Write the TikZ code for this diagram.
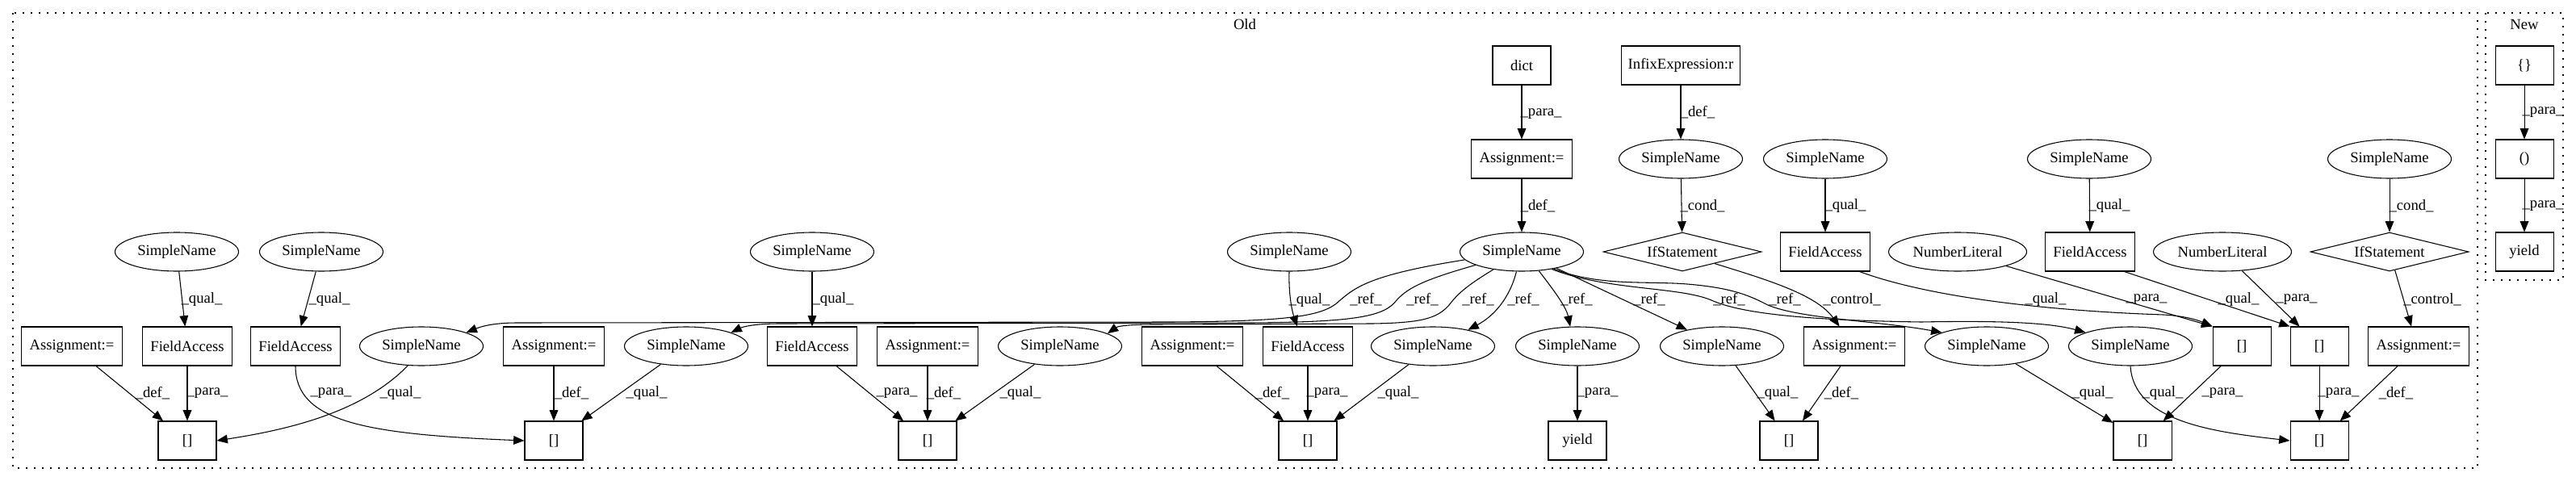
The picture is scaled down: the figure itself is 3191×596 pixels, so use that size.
\documentclass[tikz,border=0pt]{standalone}
\usepackage{fontspec}
\setmainfont{Liberation Serif}
\usetikzlibrary{shapes.geometric,arrows.meta}

\tikzset{
  box/.style={draw,rectangle,minimum width=54pt,minimum height=36pt,inner sep=0pt},
  asgbox/.style={box,minimum width=93.75pt},
  fabox/.style={box,minimum width=83.25pt},
  infbox/.style={box,minimum width=110.25pt},
  sname/.style={draw,ellipse,minimum width=114.75pt,minimum height=36pt,inner sep=0pt},
  nlit/.style={sname,minimum width=128.25pt},
  ifnode/.style={draw,diamond,aspect=4,minimum width=147pt,minimum height=36pt,inner sep=0pt},
  lbl/.style={inner sep=0pt},
  conn/.style={-{Triangle[length=10pt,width=8pt]}},
  cluster/.style={draw,line width=1pt,dash pattern=on 1.2pt off 6.3pt}
}

\begin{document}
\begin{tikzpicture}[x=0.75pt,y=-0.75pt,line width=0.8pt,
  every node/.style={font=\fontsize{14}{16}\selectfont}]
\useasboundingbox (0,0) rectangle (3191,596);
\draw[cluster] (16,16) rectangle (3069,580);
\draw[cluster] (3079,16) rectangle (3175,347);
\node (oldlbl) at (1542,30) {Old};
\node (newlbl) at (3127,30) {New};

% old
\node[box] (dict) at (1885,81) {dict};
\node[infbox] (infix) at (2082,81) {InfixExpression:r};
\node[asgbox] (asgA) at (1885,197) {Assignment:=};
\node[sname] (snB) at (2082,197) {SimpleName};
\node[sname] (snC) at (2261,197) {SimpleName};
\node[sname] (snD) at (2588,197) {SimpleName};
\node[sname] (snE) at (2960,197) {SimpleName};

\node[sname] (sn1) at (219,312) {SimpleName};
\node[sname] (sn2) at (398,312) {SimpleName};
\node[sname] (sn3) at (1006,312) {SimpleName};
\node[sname] (sn4) at (1597,312) {SimpleName};
\node[sname] (hub) at (1885,312) {SimpleName};
\node[ifnode] (ifA) at (2084,312) {IfStatement};
\node[fabox] (faC) at (2261,312) {FieldAccess};
\node[nlit] (nl1) at (2425,312) {NumberLiteral};
\node[fabox] (faD) at (2589,312) {FieldAccess};
\node[nlit] (nl2) at (2753,312) {NumberLiteral};
\node[ifnode] (ifB) at (2960,312) {IfStatement};

\node[asgbox] (asg1) at (89,429) {Assignment:=};
\node[fabox] (fa1) at (232,429) {FieldAccess};
\node[fabox] (fa2) at (366,429) {FieldAccess};
\node[sname] (sr1) at (522,429) {SimpleName};
\node[asgbox] (asg2) at (686,429) {Assignment:=};
\node[sname] (sr2) at (850,429) {SimpleName};
\node[fabox] (fa3) at (1006,429) {FieldAccess};
\node[asgbox] (asg3) at (1149,429) {Assignment:=};
\node[sname] (sr3) at (1313,429) {SimpleName};
\node[asgbox] (asg4) at (1477,429) {Assignment:=};
\node[fabox] (fa4) at (1620,429) {FieldAccess};
\node[sname] (sr4) at (1775,429) {SimpleName};
\node[sname] (sr5) at (1954,429) {SimpleName};
\node[sname] (sr6) at (2133,429) {SimpleName};
\node[asgbox] (asg5) at (2297,429) {Assignment:=};
\node[sname] (sr7) at (2461,429) {SimpleName};
\node[sname] (sr8) at (2639,429) {SimpleName};
\node[box] (br1) at (2777,429) {[]};
\node[box] (br2) at (2873,429) {[]};
\node[asgbox] (asg6) at (2996,429) {Assignment:=};

\node[box] (bx1) at (232,546) {[]};
\node[box] (bx2) at (686,546) {[]};
\node[box] (bx3) at (1149,546) {[]};
\node[box] (bx4) at (1620,546) {[]};
\node[box] (yld) at (1954,546) {yield};
\node[box] (bx5) at (2216,546) {[]};
\node[box] (bx6) at (2654,546) {[]};
\node[box] (bx7) at (2873,546) {[]};

% new
\node[box] (brc) at (3127,81) {\{\}};
\node[box] (prn) at (3127,197) {()};
\node[box] (yld2) at (3127,312) {yield};

\foreach \a/\b/\t/\lx/\ly in {dict/asgA/para/1909/141, asgA/hub/def/1905/255,
  infix/snB/def/2103/139, snB/ifA/cond/2109/255, snC/faC/qual/2286/255,
  snD/faD/qual/2613/255, snE/ifB/cond/2987/255, sn1/fa1/qual/250/371,
  sn2/fa2/qual/408/371, sn3/fa3/qual/1032/371, hub/sr6/ref/2043/371,
  asg1/bx1/def/189/487, fa1/bx1/para/257/487, asg2/bx2/def/708/487,
  sr2/bx2/qual/801/487, fa3/bx3/para/1111/487, asg3/bx3/def/1169/487,
  sr3/bx3/qual/1264/487, asg4/bx4/def/1576/487, fa4/bx4/para/1644/487,
  sr4/bx4/qual/1732/487, sr5/yld/para/1979/487, sr6/bx5/qual/2202/487,
  asg5/bx5/def/2281/487, sr7/bx6/qual/2592/487, br1/bx6/para/2753/487,
  br2/bx7/para/2897/487, asg6/bx7/def/2968/487,
  brc/prn/para/3150/139, prn/yld2/para/3150/255}
  \draw[conn] (\a) -- (\b) node[lbl] at (\lx,\ly) {\_\t\_};

\draw[conn] (sn4.south) .. controls (1596,370) and (1602,390) .. (fa4.118)
  node[lbl] at (1622,372) {\_qual\_};
\draw[conn] (ifA.-20) .. controls (2190,347) and (2250,365) .. (asg5.127)
  node[lbl] at (2294,371) {\_control\_};
\draw[conn] (ifB) -- (asg6.110) node[lbl] at (3013,371) {\_control\_};
\draw[conn] (faC.-30) .. controls (2400,372) and (2560,386) .. (2680,390)
  .. controls (2715,392) and (2730,400) .. (br1.north west)
  node[lbl] at (2534,371) {\_qual\_};
\draw[conn] (nl1) -- (br1.north west) node[lbl] at (2659,371) {\_para\_};
\draw[conn] (faD.-30) -- (br2.north west) node[lbl] at (2773,371) {\_qual\_};
\draw[conn] (nl2) -- (br2.135) node[lbl] at (2845,371) {\_para\_};

\draw[conn] (sr1.235) .. controls (450,510) and (360,532) .. (bx1.east)
  node[lbl] at (496,487) {\_qual\_};
\draw[conn] (fa2.south) .. controls (366,522) and (450,538) .. (bx2.west)
  node[lbl] at (410,487) {\_para\_};
\draw[conn] (sr8.south) .. controls (2643,522) and (2740,535) .. (bx7.west)
  node[lbl] at (2679,487) {\_qual\_};

% refs
\draw[conn] (hub.188) .. controls (1700,340) and (1680,355) .. (1660,372)
  .. controls (1640,392) and (1600,398) .. (1450,399) -- (640,400)
  .. controls (610,400) and (595,405) .. (sr1.17)
  node[lbl] at (1692,371) {\_ref\_};
\draw[conn] (hub.196) .. controls (1770,345) and (1745,355) .. (1730,372)
  .. controls (1715,392) and (1680,399) .. (1550,400) -- (965,401)
  .. controls (935,401) and (920,405) .. (sr2.17)
  node[lbl] at (1762,371) {\_ref\_};
\draw[conn] (hub.212) .. controls (1815,355) and (1805,365) .. (1795,378)
  .. controls (1780,395) and (1760,400) .. (1700,401) -- (1430,402)
  .. controls (1400,402) and (1385,404) .. (sr3.15)
  node[lbl] at (1831,371) {\_ref\_};
\draw[conn] (hub.255) .. controls (1870,370) and (1850,392) .. (sr4.25)
  node[lbl] at (1887,371) {\_ref\_};
\draw[conn] (hub.-48) .. controls (1925,360) and (1940,380) .. (sr5.110)
  node[lbl] at (1953,371) {\_ref\_};
\draw[conn] (hub.-28) .. controls (1980,355) and (2040,348) .. (2090,352)
  .. controls (2150,357) and (2170,368) .. (2190,378)
  .. controls (2230,395) and (2330,398) .. (sr7.163)
  node[lbl] at (2142,371) {\_ref\_};
\draw[conn] (hub.-30) .. controls (1990,360) and (2080,355) .. (2120,372)
  .. controls (2160,390) and (2250,397) .. (2380,399)
  .. controls (2480,397) and (2540,400) .. (sr8.163)
  node[lbl] at (2211,371) {\_ref\_};
\end{tikzpicture}
\end{document}
